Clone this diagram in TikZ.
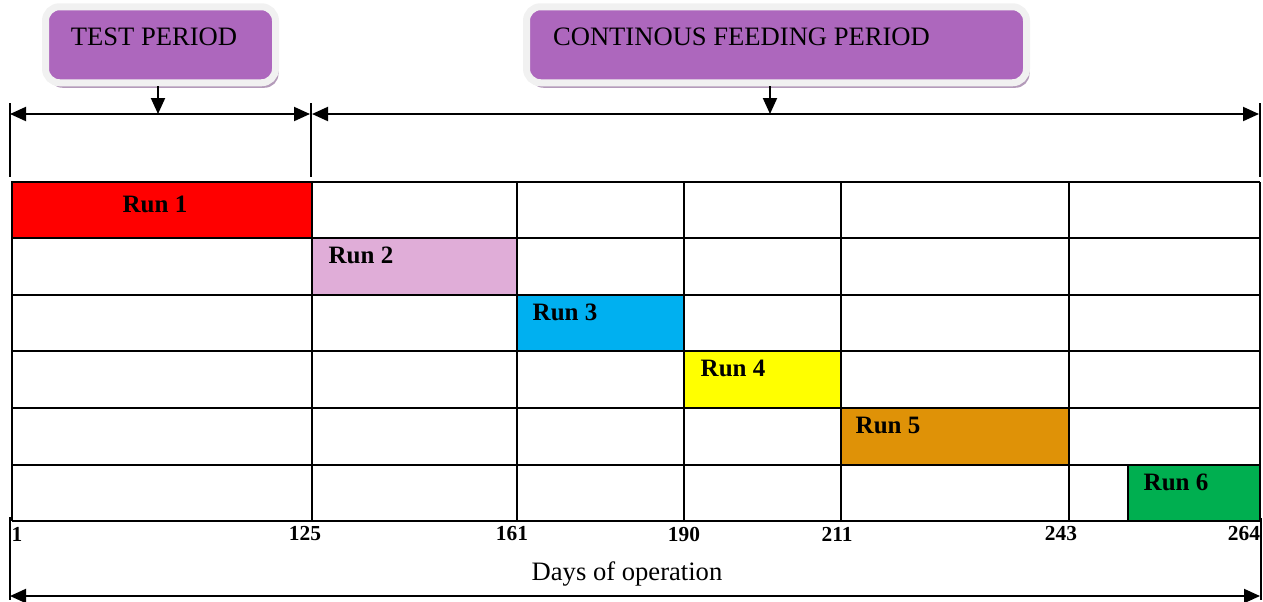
\documentclass[tikz,border=0pt]{standalone}
\usepackage{fontspec}
\setmainfont{Liberation Serif}
\usetikzlibrary{positioning,arrows.meta,shadows}

\definecolor{boxpurple}{HTML}{AD67BD}
\definecolor{rimgray}{HTML}{F1F1F1}
\definecolor{shadowpurple}{HTML}{B49BBA}
\definecolor{runred}{HTML}{FF0000}
\definecolor{runpink}{HTML}{E0ADD8}
\definecolor{runcyan}{HTML}{00B0F0}
\definecolor{runyellow}{HTML}{FFFF00}
\definecolor{runorange}{HTML}{DF9207}
\definecolor{rungreen}{HTML}{00AF50}

\tikzset{
	gridline/.style   = {line width=0.8pt},
	runbar/.style     = {draw=black, line width=0.8pt},
	runlabel/.style   = {font=\fontsize{12.5}{14}\selectfont\bfseries, inner sep=0pt},
	daylabel/.style   = {font=\fontsize{10.7}{12}\selectfont\bfseries, inner sep=0pt},
	periodbox/.style  = {fill=boxpurple, draw=rimgray, line width=3.5pt, rounded corners=7pt,
	                     drop shadow={shadow xshift=1.5pt, shadow yshift=-2.5pt, fill=shadowpurple, opacity=1}},
	periodtext/.style = {font=\fontsize{13.3}{15}\selectfont, inner sep=0pt},
	spanarrow/.style  = {line width=1pt, {Triangle[length=8pt,width=7pt]}-{Triangle[length=8pt,width=7pt]}},
	downarrow/.style  = {line width=1pt, -{Triangle[length=8pt,width=7pt]}},
	tickline/.style   = {line width=0.9pt},
}

\begin{document}
\begin{tikzpicture}[x=0.5pt, y=-0.5pt]

	\useasboundingbox (0,0) rectangle (1263,601);

	% ---------------------
	% Period boxes
	\node[periodbox, minimum width=115pt, minimum height=38pt] (TestBox) at (160.5,44.75) {};
	\node[periodtext] (TestText) at (154,37) {TEST PERIOD};

	\node[periodbox, minimum width=250pt, minimum height=38pt] (FeedBox) at (776.5,44.75) {};
	\node[periodtext] (FeedText) at (741.5,37) {CONTINOUS FEEDING PERIOD};

	% ---------------------
	% Span markers
	\coordinate (TestStart) at (10,114);
	\coordinate (TestEnd)   at (310,114);
	\coordinate (FeedStart) at (312,114);
	\coordinate (FeedEnd)   at (1259,114);
	\coordinate (TestMark)  at (158,114);
	\coordinate (FeedMark)  at (770,114);

	\draw[tickline] (10,103) -- (10,177);
	\draw[tickline] (311,103) -- (311,177);
	\draw[tickline] (1260,103) -- (1260,177);

	\draw[spanarrow] (TestStart) -- (TestEnd);
	\draw[spanarrow] (FeedStart) -- (FeedEnd);

	\draw[downarrow] (TestBox.south -| TestMark) -- (TestMark);
	\draw[downarrow] (FeedBox.south -| FeedMark) -- (FeedMark);

	% ---------------------
	% Run bars
	\path[runbar, fill=runred]    (12,182)   rectangle (312,238);
	\path[runbar, fill=runpink]   (312,238)  rectangle (517,295);
	\path[runbar, fill=runcyan]   (517,295)  rectangle (684,351);
	\path[runbar, fill=runyellow] (684,351)  rectangle (841,408);
	\path[runbar, fill=runorange] (841,408)  rectangle (1069,465);
	\path[runbar, fill=rungreen]  (1128,465) rectangle (1260,521);

	% ---------------------
	% Grid
	\foreach \y in {182,238,295,351,408,465,521}
		\draw[gridline] (12,\y) -- (1260,\y);
	\foreach \x in {12,312,517,684,841,1069,1260}
		\draw[gridline] (\x,182) -- (\x,521);

	% ---------------------
	% Run labels
	\node[runlabel] (Run1) at (155,204)  {Run 1};
	\node[runlabel] (Run2) at (361,255)  {Run 2};
	\node[runlabel] (Run3) at (565,312)  {Run 3};
	\node[runlabel] (Run4) at (733,368)  {Run 4};
	\node[runlabel] (Run5) at (888,425)  {Run 5};
	\node[runlabel] (Run6) at (1176,482) {Run 6};

	% ---------------------
	% Day axis
	\node[daylabel] (Day1)   at (17,534)   {1};
	\node[daylabel] (Day125) at (305,534)  {125};
	\node[daylabel] (Day161) at (512,534)  {161};
	\node[daylabel] (Day190) at (684,534)  {190};
	\node[daylabel] (Day211) at (837,534)  {211};
	\node[daylabel] (Day243) at (1061,534) {243};
	\node[daylabel] (Day264) at (1244,534) {264};

	\coordinate (AxisStart) at (10,596);
	\coordinate (AxisEnd)   at (1260,596);

	\draw[tickline] (10,517) -- (10,600);
	\draw[tickline] (1261,518) -- (1261,600);
	\draw[spanarrow] (AxisStart) -- (AxisEnd);

	\node[periodtext] (DaysText) at (627,574) {Days of operation};

\end{tikzpicture}
\end{document}
